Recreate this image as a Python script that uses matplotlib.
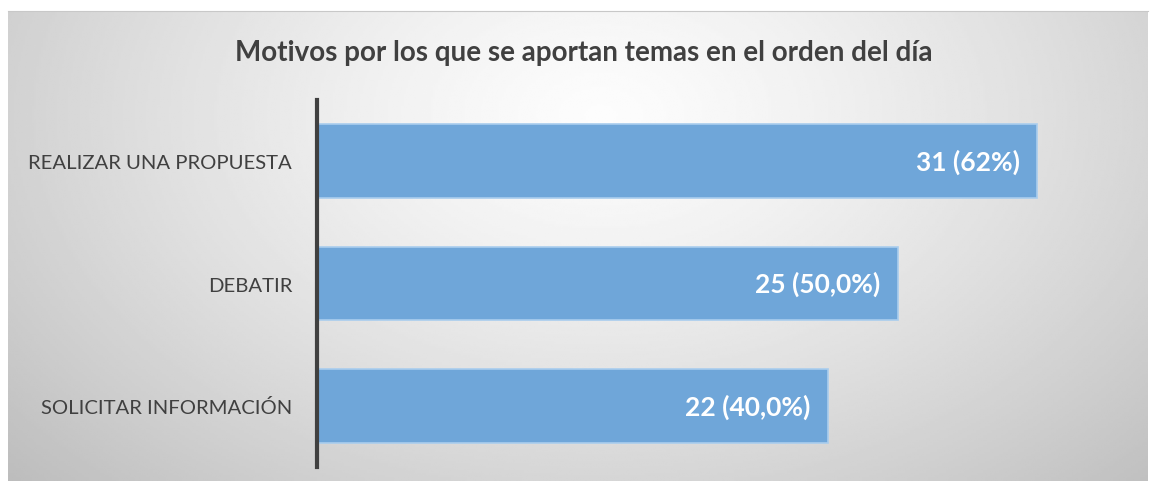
import numpy as np
import matplotlib.pyplot as plt

# data
categories = ["SOLICITAR INFORMACIÓN", "DEBATIR", "REALIZAR UNA PROPUESTA"]
counts = [22, 25, 31]
labels = ["22 (40,0%)", "25 (50,0%)", "31 (62%)"]
title = "Motivos por los que se aportan temas en el orden del día"

plt.rcParams['font.family'] = ['Lato', 'DejaVu Sans']

fig = plt.figure(figsize=(11.5, 4.85), dpi=100)
fig.patch.set_facecolor("white")

# background panel with radial gradient
bg = fig.add_axes([8/1150, 3/485, 1140/1150, 470/485])
ny, nx = 200, 500
yy, xx = np.mgrid[0:1:ny*1j, 0:1:nx*1j]
d = np.sqrt(((xx - 0.52) / 0.62) ** 2 + ((yy - 0.22) / 1.0) ** 2)
g = 0.99 - 0.21 * np.clip(d, 0, 1.2) ** 1.3
bg.imshow(g, cmap="gray", vmin=0, vmax=1, aspect="auto", extent=[0, 1, 1, 0])
bg.set_xticks([])
bg.set_yticks([])
for s in bg.spines.values():
    s.set_visible(False)
bg.spines['top'].set_visible(True)
bg.spines['top'].set_color("#c8c8c8")

# chart axes
ax = fig.add_axes([317/1150, 17/485, 813/1150, 367/485])
ax.patch.set_alpha(0)
y = np.arange(len(categories))
ax.barh(y, counts, height=0.6, color="#6fa6d9", edgecolor="#a9cdee", linewidth=1.2)
ax.set_xlim(0, 35)
ax.set_ylim(-0.5, 2.5)
ax.set_yticks(y)
ax.set_yticklabels(categories, fontsize=14.6, color="#404040")
ax.tick_params(axis='y', length=0, pad=18)
ax.set_xticks([])
for s in ['top', 'right', 'bottom']:
    ax.spines[s].set_visible(False)
ax.spines['left'].set_linewidth(3)
ax.spines['left'].set_color("#404040")

for yi, v, lab in zip(y, counts, labels):
    ax.text(v - 0.75, yi, lab, ha="right", va="center", color="white",
            fontsize=19, fontweight="bold")

fig.text(584/1150, 1 - 53/485, title, ha="center", va="center",
         fontsize=20, fontweight="bold", color="#404040")

fig.savefig("out.png", dpi=100)
